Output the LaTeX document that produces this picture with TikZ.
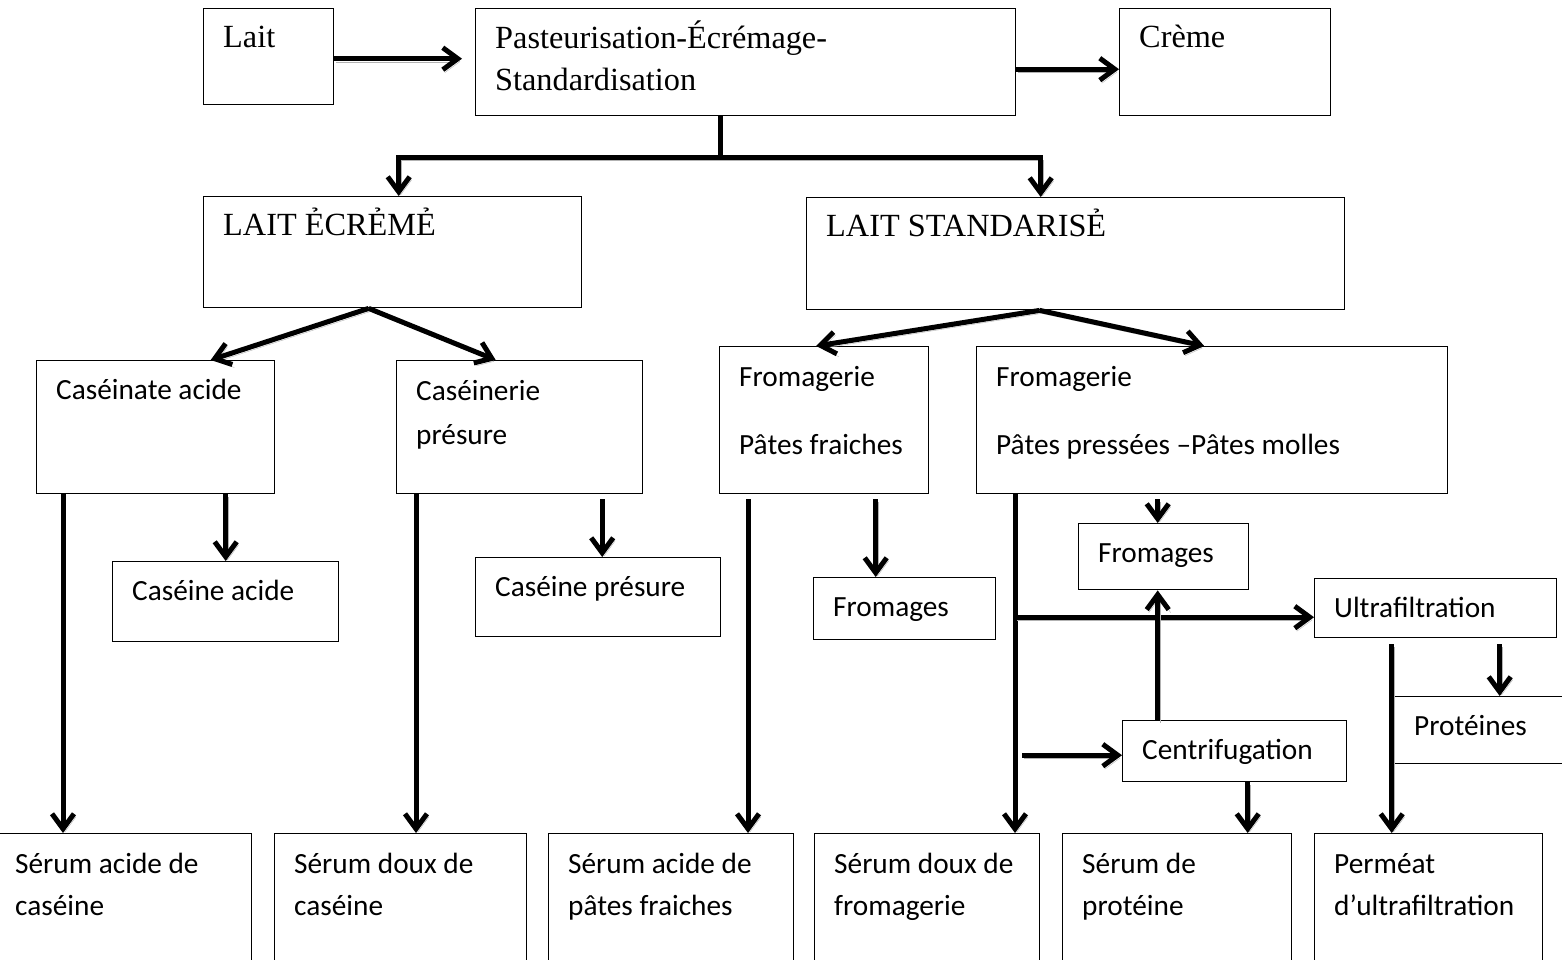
\documentclass[tikz,border=0pt]{standalone}
\usepackage{fontspec}
\setmainfont{Liberation Serif}
\setsansfont{Carlito}
\usetikzlibrary{shapes,arrows.meta,positioning}
\tikzstyle{boite}=[rectangle,draw,line width=1.4pt,anchor=north west,inner sep=0pt]
\tikzstyle{txt}=[anchor=north west,inner sep=0pt,align=left,xshift=20pt,execute at begin node=\strut]
\tikzstyle{tnr}=[txt,yshift=-10pt,font=\fontsize{32.3}{42}\selectfont\rmfamily]
\tikzstyle{tnr2}=[txt,yshift=-13pt,font=\fontsize{32.3}{42}\selectfont\rmfamily]
\tikzstyle{cal}=[txt,yshift=-10pt,font=\fontsize{29.3}{42}\selectfont\sffamily]
\tikzstyle{cal2}=[txt,yshift=-20pt,font=\fontsize{29.3}{42}\selectfont\sffamily]
\tikzstyle{ombre}=[preaction={draw=gray!60,transform canvas={shift={(2,3)}}}]
\tikzstyle{ligne}=[line width=5pt,ombre]
\tikzstyle{fl}=[line width=5pt,-{Straight Barb[length=15pt,width=22pt]},ombre]

\begin{document}
\begin{tikzpicture}[x=1pt,y=-1pt]
\useasboundingbox (0,0) rectangle (1562,959);
\clip (0,0) rectangle (1562,959);
% top row
\node[boite,minimum width=130pt,minimum height=96pt,label={[tnr]north west:Lait}] (lait) at (203,8) {};
\node[boite,minimum width=540pt,minimum height=107pt,label={[tnr2]north west:{Pasteurisation-Écrémage-\\Standardisation}}] (past) at (475,8) {};
\node[boite,minimum width=211pt,minimum height=107pt,label={[tnr]north west:Crème}] (creme) at (1119,8) {};
% second row
\node[boite,minimum width=378pt,minimum height=111pt,label={[tnr]north west:LAIT ẺCRẺMẺ}] (ecreme) at (203,196) {};
\node[boite,minimum width=538pt,minimum height=112pt,label={[tnr]north west:LAIT STANDARISẺ}] (standard) at (806,197) {};
% third row
\node[boite,minimum width=238pt,minimum height=133pt,label={[cal]north west:Caséinate acide}] (caseinate) at (36,360) {};
\node[boite,minimum width=246pt,minimum height=133pt,label={[cal2]north west:{Caséinerie\\[2pt]présure}}] (caseinerie) at (396,360) {};
\node[boite,minimum width=209pt,minimum height=147pt,label={[cal2]north west:{Fromagerie\\[26pt]Pâtes fraiches}}] (pfraiche) at (719,346) {};
\node[boite,minimum width=471pt,minimum height=147pt,label={[cal2]north west:{Fromagerie\\[26pt]Pâtes pressées –Pâtes molles}}] (ppressee) at (976,346) {};
% products
\node[boite,minimum width=226pt,minimum height=80pt,label={[cal]north west:Caséine acide}] (caseineA) at (112,561) {};
\node[boite,minimum width=245pt,minimum height=79pt,label={[cal]north west:Caséine présure}] (caseineP) at (475,557) {};
\node[boite,minimum width=182pt,minimum height=62pt,label={[cal]north west:Fromages}] (fromA) at (813,577) {};
\node[boite,minimum width=170pt,minimum height=66pt,label={[cal]north west:Fromages}] (fromB) at (1078,523) {};
\node[boite,minimum width=242pt,minimum height=59pt,label={[cal]north west:Ultrafiltration}] (ultra) at (1314,578) {};
\node[boite,minimum width=224pt,minimum height=61pt,label={[cal]north west:Centrifugation}] (centri) at (1122,720) {};
\node[boite,minimum width=190pt,minimum height=67pt,label={[cal]north west:Protéines}] (prot) at (1394,696) {};
% whey row
\node[boite,minimum width=256pt,minimum height=140pt,label={[cal2]north west:{Sérum acide de\\caséine}}] (serumA) at (-5,833) {};
\node[boite,minimum width=252pt,minimum height=140pt,label={[cal2]north west:{Sérum doux de\\caséine}}] (serumB) at (274,833) {};
\node[boite,minimum width=245pt,minimum height=140pt,label={[cal2]north west:{Sérum acide de\\pâtes fraiches}}] (serumC) at (548,833) {};
\node[boite,minimum width=225pt,minimum height=140pt,label={[cal2]north west:{Sérum doux de\\fromagerie}}] (serumD) at (814,833) {};
\node[boite,minimum width=229pt,minimum height=140pt,label={[cal2]north west:{Sérum de\\protéine}}] (serumE) at (1062,833) {};
\node[boite,minimum width=228pt,minimum height=140pt,label={[cal2]north west:{Perméat\\d’ultrafiltration}}] (serumF) at (1314,833) {};

% arrows
\draw[fl,shorten >=13pt] ([yshift=-2pt]lait.east) -- ([yshift=-2pt]lait.east -| past.west);
\draw[fl] ([yshift=-7pt]past.east) -- ([yshift=-7pt]past.east -| creme.west);
\coordinate (nd) at (720,157);
\draw[ligne] (past.south -| nd) -- (nd);
\draw[fl] (nd) -| ([xshift=6pt]ecreme.north);
\draw[fl] (nd) -| ([xshift=-35pt]standard.north);
\draw[fl] ([xshift=-24pt]ecreme.south) -- ([xshift=55pt]caseinate.north);
\draw[fl] ([xshift=-24pt]ecreme.south) -- ([xshift=-24pt]caseinerie.north);
\draw[fl] ([xshift=-36pt]standard.south) -- ([xshift=-8pt]pfraiche.north);
\draw[fl] ([xshift=-36pt]standard.south) -- ([xshift=-8pt]ppressee.north);
% caseine
\draw[fl] ([xshift=27pt]caseinate.south west) -- ([xshift=27pt]caseinate.south west |- serumA.north);
\draw[fl] (caseineA.north |- caseinate.south) -- (caseineA.north);
\draw[fl] ([xshift=20pt]caseinerie.south west) -- ([xshift=20pt]caseinerie.south west |- serumB.north);
\draw[fl] ([xshift=4pt,yshift=-5pt]caseineP.north |- caseinerie.south) -- ([xshift=4pt]caseineP.north);
% fromagerie
\draw[fl] ([xshift=29pt,yshift=-5pt]pfraiche.south west) -- ([xshift=29pt]pfraiche.south west |- serumC.north);
\draw[fl] ([xshift=-29pt,yshift=-5pt]fromA.north |- pfraiche.south) -- ([xshift=-29pt]fromA.north);
\coordinate (tronc) at ([xshift=39pt]ppressee.south west);
\draw[fl] (tronc) -- (tronc |- serumD.north);
\draw[fl] ([xshift=-6pt,yshift=-5pt]fromB.north |- ppressee.south) -- ([xshift=-6pt]fromB.north);
\draw[fl] ([yshift=-9pt]ultra.west -| tronc) -- ([yshift=-9pt]ultra.west);
\draw[fl] ([xshift=7pt,yshift=-4pt]centri.west -| tronc) -- ([yshift=-4pt]centri.west);
\draw[fl] ([xshift=-6pt]fromB.south |- centri.north) -- ([xshift=-6pt]fromB.south);
\draw[fl] ([xshift=13pt]centri.south) -- ([xshift=13pt]centri.south |- serumE.north);
% ultrafiltration
\draw[fl] ([xshift=-37pt,yshift=-6pt]serumF.north |- ultra.south) -- ([xshift=-37pt]serumF.north);
\draw[fl] ([xshift=10pt,yshift=-6pt]prot.north |- ultra.south) -- ([xshift=10pt]prot.north);
\end{tikzpicture}
\end{document}
